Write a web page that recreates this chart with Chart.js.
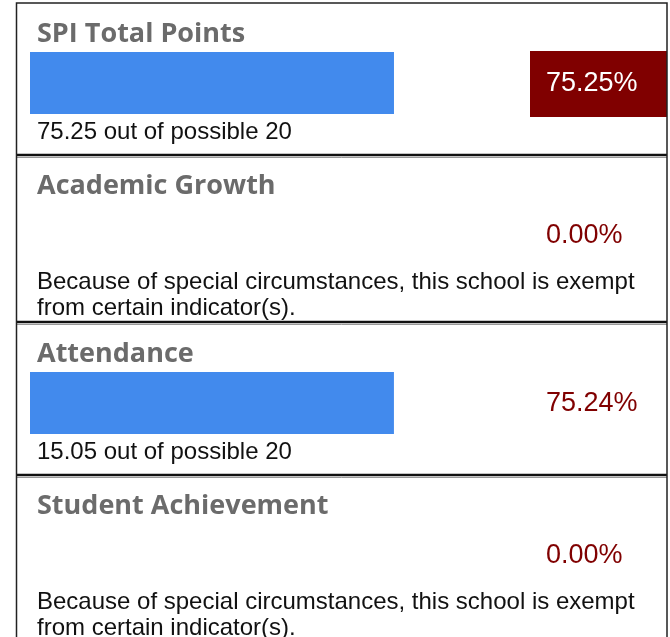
<!DOCTYPE html>
<html>
<head>
<meta charset="utf-8">
<script src="https://cdn.jsdelivr.net/npm/chart.js@4/dist/chart.umd.min.js"></script>
<style>
  html, body { margin: 0; padding: 0; background: #fff; overflow: hidden; }
  canvas { display: block; }
</style>
</head>
<body>
<canvas id="myChart" width="670" height="650"></canvas>
<script>
const categories = ['SPI Total Points', 'Academic Growth', 'Attendance', 'Student Achievement'];
const percentValues = [75.25, 0, 75.24, 0];
const pointsEarned = [75.25, null, 15.05, null];
const pointsPossible = [20, null, 20, null];
const exemptNote = ['Because of special circumstances, this school is exempt', 'from certain indicator(s).'];

const TITLE_FONT = 'bold 27px "Open Sans"';
const BODY_FONT = '24px "Liberation Sans", Arial';
const PCT_FONT = '27px "Liberation Sans", Arial';
const DARK_RED = '#800000';

// offsets from the row centre, scored rows vs exempt rows
const rowLayout = {
  scored: { title: -41, pct: 8, note: 56, bottom: 72 },
  exempt: { title: -49, pct: 0, note: 46, bottom: 79 }
};

const scorecard = {
  id: 'scorecard',
  beforeDraw(chart) {
    const ctx = chart.ctx;
    ctx.save();
    ctx.fillStyle = '#fff';
    ctx.fillRect(0, 0, chart.width, chart.height);
    ctx.restore();
  },
  afterDraw(chart) {
    const ctx = chart.ctx;
    const y = chart.scales.y;
    const left = 16.5, right = 667, top = 3;
    ctx.save();

    categories.forEach((cat, i) => {
      const c = y.getPixelForValue(i);
      const scored = pointsEarned[i] !== null;
      const L = scored ? rowLayout.scored : rowLayout.exempt;

      // title
      ctx.font = TITLE_FONT;
      ctx.fillStyle = '#6b6b6b';
      ctx.textBaseline = 'alphabetic';
      ctx.textAlign = 'left';
      ctx.fillText(cat, 37, c + L.title);

      // percentage
      const pct = percentValues[i].toFixed(2) + '%';
      if (i === 0) {
        ctx.fillStyle = DARK_RED;
        ctx.fillRect(530, c - 32, right - 530, 66);
        ctx.fillStyle = '#fff';
      } else {
        ctx.fillStyle = DARK_RED;
      }
      ctx.font = PCT_FONT;
      ctx.fillText(pct, 546, c + L.pct);

      // note
      ctx.font = BODY_FONT;
      ctx.fillStyle = '#111';
      if (scored) {
        ctx.fillText(pointsEarned[i].toFixed(2) + ' out of possible ' + pointsPossible[i], 37, c + L.note);
      } else {
        exemptNote.forEach((line, k) => ctx.fillText(line, 37, c + L.note + k * 26));
      }

      // separator
      if (i < categories.length - 1) {
        const sy = c + L.bottom;
        ctx.strokeStyle = '#111';
        ctx.lineWidth = 2.5;
        ctx.beginPath();
        ctx.moveTo(left, sy);
        ctx.lineTo(right, sy);
        ctx.stroke();
        ctx.strokeStyle = '#999';
        ctx.lineWidth = 1;
        ctx.beginPath();
        ctx.moveTo(left, sy + 2.5);
        ctx.lineTo(right, sy + 2.5);
        ctx.stroke();
      }
    });

    // outer frame
    ctx.strokeStyle = '#222';
    ctx.lineWidth = 1.5;
    ctx.beginPath();
    ctx.moveTo(left, chart.height);
    ctx.lineTo(left, top);
    ctx.lineTo(right, top);
    ctx.lineTo(right, chart.height);
    ctx.stroke();
    ctx.restore();
  }
};

window.onload = _ => {
  const ctx = document.getElementById('myChart').getContext('2d');

  new Chart(ctx, {
    type: 'bar',
    data: {
      labels: categories,
      datasets: [{
        label: 'Percent',
        data: percentValues,
        backgroundColor: '#428aed',
        borderWidth: 0,
        inflateAmount: 0,
        barThickness: 62
      }]
    },
    options: {
      indexAxis: 'y',
      responsive: false,
      animation: false,
      devicePixelRatio: 1,
      layout: { padding: { left: 30, right: 156.3, top: 3, bottom: 7 } },
      scales: {
        x: { min: 0, max: 100, display: false },
        y: { display: false }
      },
      plugins: {
        legend: { display: false },
        tooltip: { enabled: false }
      }
    },
    plugins: [scorecard]
  });
};
</script>
</body>
</html>
